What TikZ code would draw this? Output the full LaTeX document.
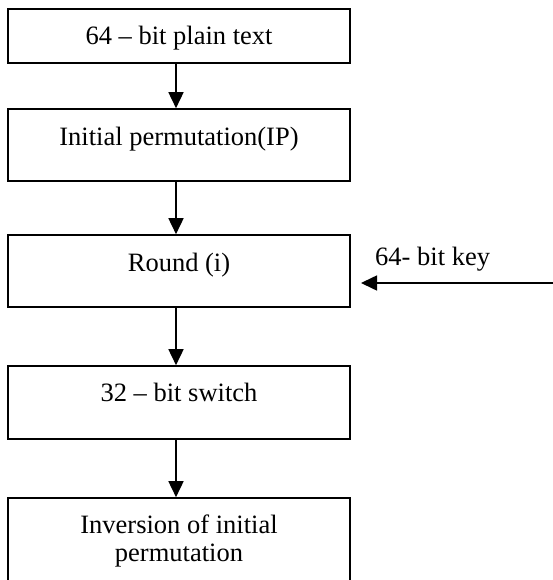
\documentclass[tikz,border=0pt]{standalone}
\usepackage{fontspec}
\setmainfont{Liberation Serif}
\usetikzlibrary{arrows.meta}
\begin{document}
\begin{tikzpicture}[x=1pt,y=-1pt,
  box/.style={draw=black, line width=1.6pt, rectangle, inner sep=0pt,
              minimum width=342pt},
  lbl/.style={anchor=base, inner sep=0pt,
              font=\fontsize{26.5}{30}\selectfont},
  flow/.style={draw=black, line width=1.6pt,
               -{Triangle[length=16pt,width=15pt]}}]
\useasboundingbox (0,0) rectangle (553,580);
\clip (0,0) rectangle (553,580);

% process boxes
\node[box, minimum height=54pt] (b1) at (179,36) {};
\node[box, minimum height=72pt] (b2) at (179,145) {};
\node[box, minimum height=72pt] (b3) at (179,271) {};
\node[box, minimum height=73pt] (b4) at (179,402.5) {};
\node[box, minimum height=86pt] (b5) at (179,541) {};

% box texts
\node[lbl] (t1) at ([yshift=-36pt]b1.north) {64 – bit plain text};
\node[lbl] (t2) at ([yshift=-37pt]b2.north) {Initial permutation(IP)};
\node[lbl] (t3) at ([yshift=-37pt]b3.north) {Round (i)};
\node[lbl] (t4) at ([yshift=-36pt]b4.north) {32 – bit switch};
\node[lbl] (t5a) at ([yshift=-36pt]b5.north) {Inversion of initial};
\node[lbl] (t5b) at ([yshift=-64pt]b5.north) {permutation};

% key input
\node[lbl, anchor=base west] (keylbl) at (375,265) {64- bit key};
\coordinate (keysrc) at (553,283);
\coordinate (keytip) at (361,283);

% connectors
\draw[flow] ([xshift=-3pt]b1.south) -- ([xshift=-3pt]b2.north);
\draw[flow] ([xshift=-3pt]b2.south) -- ([xshift=-3pt]b3.north);
\draw[flow] ([xshift=-3pt]b3.south) -- ([xshift=-3pt]b4.north);
\draw[flow] ([xshift=-3pt]b4.south) -- ([xshift=-3pt]b5.north);
\draw[flow] (keysrc) -- (keytip);
\end{tikzpicture}
\end{document}
